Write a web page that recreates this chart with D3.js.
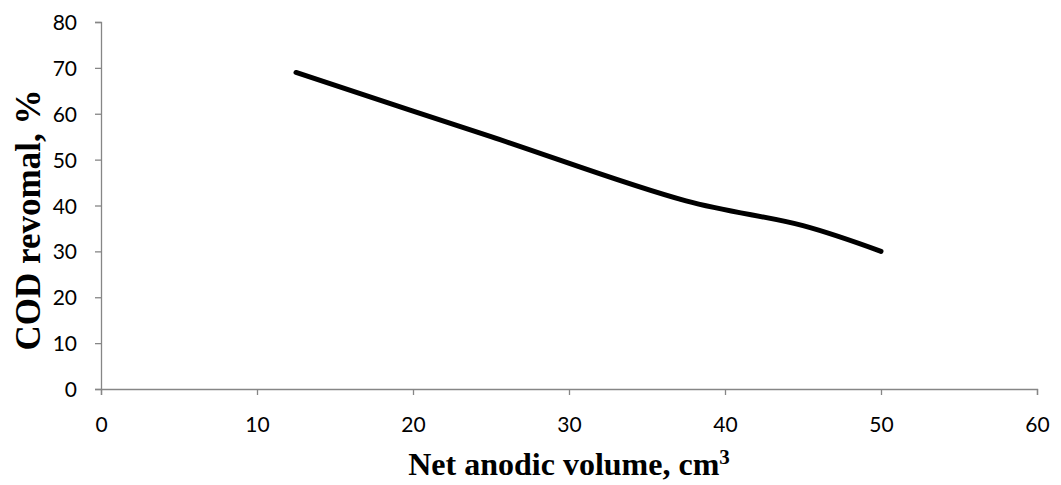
<!DOCTYPE html>
<html>
<head>
<meta charset="utf-8">
<script src="https://cdn.jsdelivr.net/npm/d3@7"></script>
<style>
  body { margin: 0; background: #fff; }
  .tick text { font-family: Lato, "Open Sans", sans-serif; font-size: 21px; fill: #000; }
  .axis-title { font-family: "Liberation Serif", "Times New Roman", serif; font-weight: bold; fill: #000; }
</style>
</head>
<body>
<svg id="chart" width="1061" height="485"></svg>
<script>
// net anodic volume (cm3) and COD removal (%)
var volume = [12.5, 25, 37.5, 45, 50];
var codRemoval = [69, 55, 41, 35.6, 30];
var xTicks = [0, 10, 20, 30, 40, 50, 60];
var yTicks = [0, 10, 20, 30, 40, 50, 60, 70, 80];

var margin = { top: 22, right: 24, bottom: 96, left: 101 },
    width = 1061 - margin.left - margin.right,
    height = 485 - margin.top - margin.bottom;

var svg = d3.select("#chart")
    .append("g")
    .attr("transform", "translate(" + margin.left + "," + margin.top + ")");

var x = d3.scaleLinear().domain([0, 60]).range([0, width]);
var y = d3.scaleLinear().domain([0, 80]).range([height, 0]);

// x axis
var gx = svg.append("g")
    .attr("transform", "translate(0," + height + ")")
    .call(d3.axisBottom(x).tickValues(xTicks).tickSize(6).tickPadding(22));

// y axis
var gy = svg.append("g")
    .call(d3.axisLeft(y).tickValues(yTicks).tickSize(6).tickPadding(18));

[gx, gy].forEach(function (g) {
    g.select(".domain").attr("stroke", "#868686").attr("stroke-width", 1.3);
    g.selectAll(".tick line").attr("stroke", "#868686").attr("stroke-width", 1.3);
});
gy.selectAll(".tick text").attr("dy", "0.36em");

// data line
var line = d3.line()
    .x(function (d, i) { return x(volume[i]); })
    .y(function (d) { return y(d); })
    .curve(d3.curveCatmullRom.alpha(0.5));

svg.append("path")
    .datum(codRemoval)
    .attr("d", line)
    .style("fill", "none")
    .style("stroke", "#000")
    .style("stroke-width", "5px")
    .style("stroke-linecap", "round");

// axis titles
var xTitle = svg.append("text")
    .attr("class", "axis-title")
    .attr("x", width / 2)
    .attr("y", height + 86)
    .style("font-size", "32px")
    .style("text-anchor", "middle");
xTitle.append("tspan").text("Net anodic volume, cm");
xTitle.append("tspan").text("3").attr("font-size", "21px").attr("dy", "-11");

svg.append("text")
    .attr("class", "axis-title")
    .attr("transform", "rotate(-90)")
    .attr("x", -198)
    .attr("y", -margin.left + 40)
    .style("font-size", "35px")
    .style("text-anchor", "middle")
    .text("COD revomal, %");
</script>
</body>
</html>
